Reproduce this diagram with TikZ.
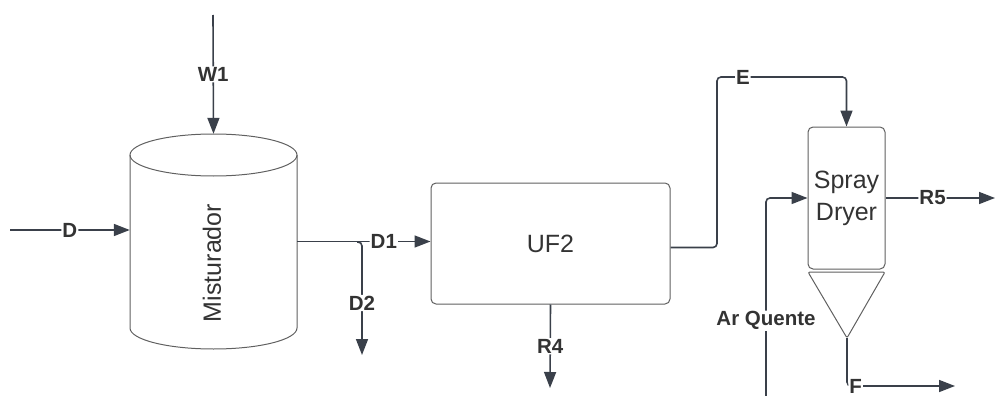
\documentclass[tikz,border=0pt]{standalone}
\usepackage{fontspec}
\setmainfont{Liberation Sans}
\usetikzlibrary{arrows.meta,positioning,calc}
\definecolor{FlowGrey}{RGB}{58,64,74}
\definecolor{EdgeGrey}{RGB}{96,96,96}
\definecolor{TextGrey}{RGB}{51,51,51}

\begin{document}
\begin{tikzpicture}[
    x=1pt, y=-1pt,
    >={Triangle[length=16pt, width=12pt]},
    unit/.style={draw=EdgeGrey, line width=1pt, rounded corners=5pt, align=center,
                 font=\fontsize{25}{32}\selectfont, text=TextGrey},
    outline/.style={draw=EdgeGrey, line width=1pt},
    flow/.style={->, draw=FlowGrey, line width=1.6pt, rounded corners=4pt},
    lbl/.style={fill=white, inner sep=1pt, text=TextGrey,
                font=\fontsize{20.5}{23}\selectfont\bfseries},
]
\useasboundingbox (0,0) rectangle (996,396);

% mixer tank (drawn by hand, node only for anchors)
\node[minimum width=167pt, minimum height=215pt, inner sep=0pt] (mix) at (213.5,241.5) {};
\draw[outline] (213.5,155) ellipse [x radius=83.5pt, y radius=21pt];
\draw[outline] (130,155) -- (130,328) arc[start angle=180, end angle=360,
    x radius=83.5pt, y radius=21pt] -- (297,155);
\node[rotate=90, text=TextGrey, font=\fontsize{25}{30}\selectfont] (mixtxt) at (212,263) {Misturador};

% other equipment
\node[unit, minimum width=239pt, minimum height=121pt] (uf) at (550.5,243.5) {UF2};
\node[unit, minimum width=77pt, minimum height=142pt] (sd) at (846.5,198) {Spray\\Dryer};
\coordinate (apex) at (847,338);
\draw[outline, rounded corners=2pt] (808,272) -- (885,272) -- (apex) -- cycle;

% free ends
\coordinate (w1in) at (213,15);
\coordinate (din) at (10,230);
\coordinate (split) at (362,242);
\coordinate (d2out) at (362,355);
\coordinate (r4out) at (550,388);
\coordinate (etop) at (717,77);
\coordinate (r5out) at (995,198);
\coordinate (airin) at (766,396);
\coordinate (fout) at (955,386);

% streams
\draw[flow] (w1in) -- node[lbl] {W1} (mix.north);
\draw[flow] (din) -- node[lbl] {D} (din -| mix.west);
\draw[flow] (mix.east) -- node[lbl, pos=0.65] {D1} (mix.east -| uf.west);
\draw[flow] ($(split)+(-5,0)$) -| node[lbl, pos=0.77] {D2} (d2out);
\draw[flow] (uf.south) -- node[lbl] {R4} (r4out);
\draw[flow] ($(uf.east)+(0,4)$) -| (etop) -- node[lbl, pos=0.2] {E} (etop -| sd.north) -- (sd.north);
\draw[flow] (sd.east) -- node[lbl, pos=0.43] {R5} (r5out);
\draw[flow] (airin) |- node[lbl, pos=0.19] {Ar Quente} (sd.west);
\draw[flow] (apex) |- node[lbl, pos=0.54] {F} (fout);
\end{tikzpicture}
\end{document}
